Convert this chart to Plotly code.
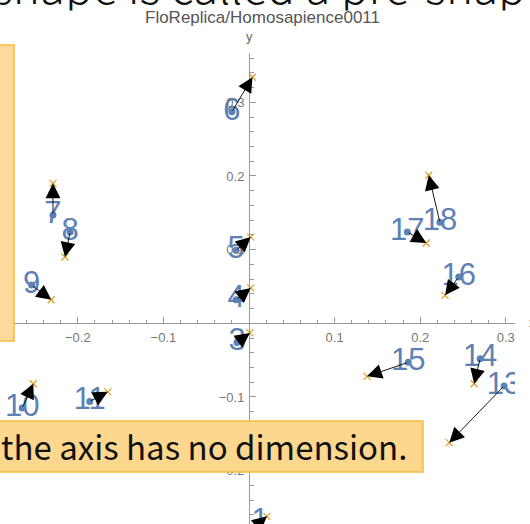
import numpy as np
import plotly.graph_objects as go

# ---------------- data ----------------
labels = ["1", "3", "4", "5", "6", "7", "8", "9", "10", "11",
          "13", "14", "15", "16", "17", "18"]
start_x = [0.013, -0.014, -0.015, -0.015, -0.020, -0.229, -0.209, -0.254, -0.265, -0.186,
           0.298, 0.270, 0.186, 0.245, 0.185, 0.223]
start_y = [-0.270, -0.026, 0.032, 0.099, 0.287, 0.147, 0.124, 0.052, -0.115, -0.106,
           -0.085, -0.048, -0.053, 0.063, 0.124, 0.137]
end_x = [0.021, 0.001, 0.002, 0.002, 0.004, -0.229, -0.215, -0.231, -0.252, -0.165,
         0.234, 0.263, 0.138, 0.229, 0.207, 0.210]
end_y = [-0.262, -0.013, 0.048, 0.117, 0.334, 0.190, 0.090, 0.032, -0.082, -0.093,
         -0.162, -0.082, -0.072, 0.038, 0.109, 0.201]
x_ticks = [-0.2, -0.1, 0.1, 0.2, 0.3]
y_ticks = [-0.2, -0.1, 0.1, 0.2, 0.3]
minor_ticks = [round(v, 2) for v in np.arange(-0.36, 0.42, 0.02)]

title_text = "FloReplica/Homosapience0011"
top_text = "shape is called a pre-shape."
bottom_text = "the axis has no dimension."

# ---------------- geometry ----------------
W, H = 530, 524
X0PIX, XSCALE = 249.0, 856.0
Y0PIX, YSCALE = 323.3, 736.7
PLOT_RIGHT, PLOT_TOP = 515, 53
x_range = [(0 - X0PIX) / XSCALE, (PLOT_RIGHT - X0PIX) / XSCALE]
y_range = [(Y0PIX - H) / YSCALE, (Y0PIX - PLOT_TOP) / YSCALE]

def px(xp):
    return xp / W

def py(yp):
    return 1 - yp / H

BLUE = "#5E81B5"
ORANGE = "#E19C24"
AXC = "#9a9a9a"
TICKFONT = dict(family="Liberation Sans, Arial", size=13, color="#777777")

fig = go.Figure()

# end points (orange crosses)
fig.add_trace(go.Scatter(
    x=end_x, y=end_y, mode="markers",
    marker=dict(symbol="x-thin-open", size=7, color=ORANGE, line=dict(width=1.2, color=ORANGE)),
    showlegend=False, hoverinfo="skip"))
# start points (blue dots)
fig.add_trace(go.Scatter(
    x=start_x, y=start_y, mode="markers",
    marker=dict(symbol="circle", size=7, color=BLUE),
    showlegend=False, hoverinfo="skip"))
# labels
fig.add_trace(go.Scatter(
    x=start_x, y=start_y, mode="text", text=labels, textposition="middle center",
    textfont=dict(family="Liberation Sans, Arial", size=31, color=BLUE),
    cliponaxis=True, showlegend=False, hoverinfo="skip"))

# clipped big slide text at top
fig.add_trace(go.Scatter(
    x=[-8], y=[7.1], mode="text", text=[top_text], textposition="middle right",
    textfont=dict(family="Noto Sans CJK JP", size=46, color="#111111", weight=300),
    cliponaxis=True, showlegend=False, hoverinfo="skip",
    xaxis="x2", yaxis="y2"))

annotations = []
for sx, sy, ex, ey in zip(start_x, start_y, end_x, end_y):
    annotations.append(dict(
        x=ex, y=ey, ax=sx, ay=sy, xref="x", yref="y", axref="x", ayref="y",
        text="", showarrow=True, arrowhead=2, arrowsize=3.3, arrowwidth=0.9,
        arrowcolor="#000000", standoff=0, startstandoff=0))

annotations += [
    dict(x=px(262.5), y=py(17.5), xref="paper", yref="paper", text=title_text,
         showarrow=False, xanchor="center", yanchor="middle",
         font=dict(family="Liberation Sans, Arial", size=17, color="#555555")),
    dict(x=px(249), y=py(36), xref="paper", yref="paper", text="y",
         showarrow=False, xanchor="center", yanchor="middle",
         font=dict(family="Liberation Sans, Arial", size=13, color="#666666")),
    dict(x=px(527), y=py(322), xref="paper", yref="paper", text="x",
         showarrow=False, xanchor="left", yanchor="middle",
         font=dict(family="Liberation Sans, Arial", size=13, color="#666666")),
    dict(x=px(-1), y=py(446), xref="paper", yref="paper", text=bottom_text,
         showarrow=False, xanchor="left", yanchor="middle",
         font=dict(family="Noto Sans CJK JP", size=33, color="#111111")),
]

shapes = [
    dict(type="rect", xref="paper", yref="paper", layer="above",
         x0=px(-2), x1=px(14), y0=py(341), y1=py(45),
         fillcolor="#FDDA9C", line=dict(color="#F5BC3E", width=1.5)),
    dict(type="rect", xref="paper", yref="paper", layer="above",
         x0=px(-2), x1=px(423), y0=py(472), y1=py(421),
         fillcolor="#FDD78E", line=dict(color="#F5BC3E", width=1.5)),
]

axis_common = dict(showgrid=False, zeroline=False, showline=True, linecolor=AXC, linewidth=1,
                   ticks="inside", ticklen=6, tickcolor=AXC, tickwidth=1,
                   tickfont=TICKFONT, tickmode="array",
                   minor=dict(tickmode="array", tickvals=minor_ticks, ticks="inside",
                              ticklen=3.5, tickcolor=AXC, tickwidth=1, showgrid=False))

fig.update_layout(
    width=W, height=H, margin=dict(l=0, r=0, t=0, b=0),
    paper_bgcolor="white", plot_bgcolor="rgba(0,0,0,0)",
    xaxis=dict(domain=[0, PLOT_RIGHT / W], range=x_range, anchor="free",
               position=(H - Y0PIX) / H, tickvals=x_ticks, ticklabelstandoff=2,
               **axis_common),
    yaxis=dict(domain=[0, 1 - PLOT_TOP / H], range=y_range, anchor="free",
               position=X0PIX / W, tickvals=y_ticks, ticklabelstandoff=2,
               **axis_common),
    xaxis2=dict(domain=[0, 1], range=[0, W], visible=False, anchor="y2", fixedrange=True),
    yaxis2=dict(domain=[1 - 10.5 / H, 1], range=[-10.5, 0], visible=False, anchor="x2",
                fixedrange=True),
    annotations=annotations, shapes=shapes, showlegend=False,
)

fig.write_html("out.html")
